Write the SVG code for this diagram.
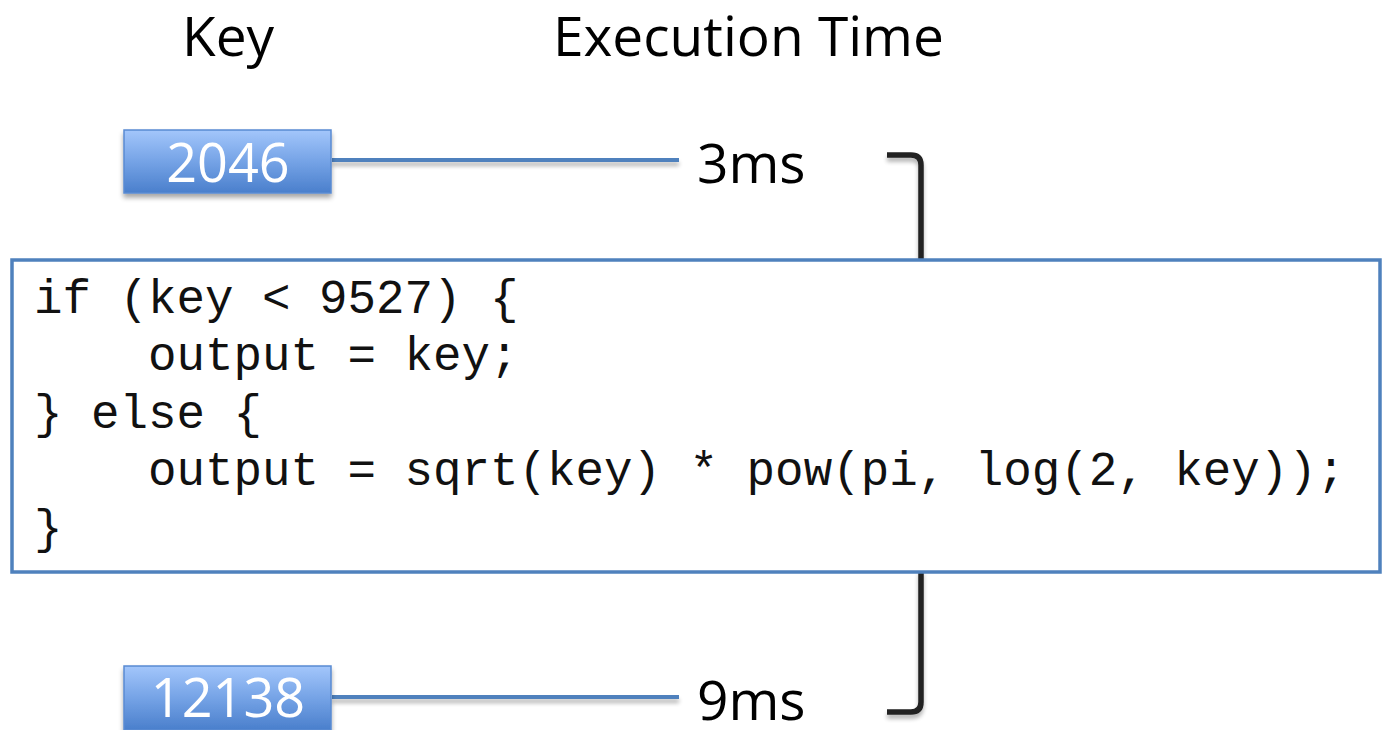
<svg xmlns="http://www.w3.org/2000/svg" width="1383" height="730" viewBox="0 0 1383 730">
<defs>
<linearGradient id="keyGrad" x1="0" y1="0" x2="0" y2="1">
<stop offset="0" stop-color="#a3c6fb"/>
<stop offset="0.5" stop-color="#75a3e6"/>
<stop offset="1" stop-color="#4a7fcc"/>
</linearGradient>
<filter id="shadow" x="-10%" y="-10%" width="120%" height="140%">
<feGaussianBlur in="SourceAlpha" stdDeviation="2.5"/>
<feOffset dx="0" dy="4" result="b"/>
<feComponentTransfer><feFuncA type="linear" slope="0.35"/></feComponentTransfer>
<feMerge><feMergeNode/><feMergeNode in="SourceGraphic"/></feMerge>
</filter>
<filter id="lshadow" filterUnits="userSpaceOnUse" x="0" y="0" width="1383" height="730">
<feGaussianBlur in="SourceAlpha" stdDeviation="2"/>
<feOffset dx="0" dy="4" result="b"/>
<feComponentTransfer><feFuncA type="linear" slope="0.3"/></feComponentTransfer>
<feMerge><feMergeNode/><feMergeNode in="SourceGraphic"/></feMerge>
</filter>
</defs>
<style>
.hdr{font-family:"Open Sans","Liberation Sans",sans-serif;font-size:55px;fill:#000}
.keybox{fill:url(#keyGrad);stroke:#5a8bd2;stroke-width:1.5}
.keytxt{font-family:"Open Sans","Liberation Sans",sans-serif;font-size:54px;fill:#fff;text-anchor:middle}
.conn{stroke:#4f81bd;stroke-width:4;fill:none}
.brace{stroke:#222;stroke-width:5.5;fill:none}
.code{font-family:"Liberation Mono","Courier New",monospace;font-size:47.5px;fill:#111;white-space:pre}
.codebox{fill:#fff;stroke:#4f81bd;stroke-width:3.5}
</style>
<g id="headers">
<text class="hdr" x="182" y="56">Key</text>
<text class="hdr" x="553" y="56">Execution Time</text>
</g>
<g id="connectors" filter="url(#lshadow)">
<line class="conn" x1="332" y1="160" x2="679" y2="160"/>
<line class="conn" x1="332" y1="697" x2="679" y2="697"/>
<path class="brace" d="M887,155 L911,155 Q921,155 921,165 L921,262"/>
<path class="brace" d="M921,570 L921,702 Q921,712 911,712 L887,712"/>
</g>
<g id="key2046">
<rect class="keybox" x="124" y="130" width="207" height="63" filter="url(#shadow)"/>
<text class="keytxt" x="228" y="182">2046</text>
</g>
<g id="time3ms">
<text class="hdr" x="697" y="183">3ms</text>
</g>
<g id="codeblock">
<rect class="codebox" x="12" y="260" width="1368" height="312"/>
<text class="code" x="34" y="313">if (key &lt; 9527) {</text>
<text class="code" x="34" y="370">    output = key;</text>
<text class="code" x="34" y="428">} else {</text>
<text class="code" x="34" y="485">    output = sqrt(key) * pow(pi, log(2, key));</text>
<text class="code" x="34" y="543">}</text>
</g>
<g id="key12138">
<rect class="keybox" x="124" y="666" width="207" height="64" filter="url(#shadow)"/>
<text class="keytxt" x="228" y="717">12138</text>
</g>
<g id="time9ms">
<text class="hdr" x="697" y="720">9ms</text>
</g>
</svg>
